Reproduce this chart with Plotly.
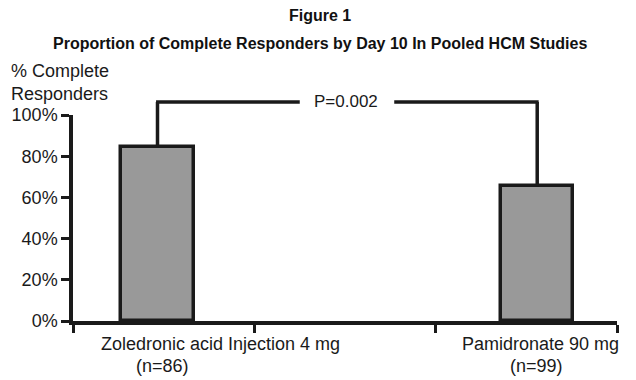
import plotly.graph_objects as go

# ---- data ----
categories = ["Zoledronic acid Injection 4 mg", "Pamidronate 90 mg"]
sample_sizes = ["(n=86)", "(n=99)"]
pct_complete = [84.5, 65.5]
p_value_label = "P=0.002"
y_tick_vals = [0, 20, 40, 60, 80, 100]
y_tick_text = ["0%", "20%", "40%", "60%", "80%", "100%"]

# ---- layout constants ----
W, H = 636, 380
ML, MR, MT, MB = 70, 19, 115, 59
PW = W - ML - MR
PH = H - MT - MB
XMAX = 3.0
bar_x = [0.466, 2.56]
bar_w = 0.4
TXT = "Liberation Sans, Arial, sans-serif"
TITLEF = "Liberation Sans Narrow, Arial Narrow, Liberation Sans, Arial, sans-serif"


def px_to_xpaper(px):
    return (px - ML) / PW


def px_to_ypaper(py):
    return (H - MB - py) / PH


fig = go.Figure()
fig.add_trace(go.Bar(
    x=bar_x, y=pct_complete, width=bar_w,
    marker=dict(color="#999999", line=dict(color="#1a1a1a", width=3.5)),
    hoverinfo="skip", showlegend=False,
))

shapes = []
bracket_y = px_to_ypaper(102)
lw = 3.5
lc = "#1a1a1a"
for bx, v in zip(bar_x, pct_complete):
    shapes.append(dict(type="line", xref="x", yref="paper", x0=bx, x1=bx,
                       y0=v / 100.0, y1=bracket_y, line=dict(color=lc, width=lw)))
gap_l = (298 - ML) / PW * XMAX
gap_r = (393 - ML) / PW * XMAX
shapes.append(dict(type="line", xref="x", yref="paper", x0=bar_x[0] - 0.008, x1=gap_l,
                   y0=bracket_y, y1=bracket_y, line=dict(color=lc, width=lw)))
shapes.append(dict(type="line", xref="x", yref="paper", x0=gap_r, x1=bar_x[1] + 0.008,
                   y0=bracket_y, y1=bracket_y, line=dict(color=lc, width=lw)))

annotations = []
annotations.append(dict(text=p_value_label, xref="paper", yref="paper",
                        x=px_to_xpaper(345), y=px_to_ypaper(101), showarrow=False,
                        font=dict(family=TXT, size=17, color="#1a1a1a"),
                        xanchor="center", yanchor="middle"))
annotations.append(dict(text="<b>Figure 1</b>", xref="paper", yref="paper",
                        x=px_to_xpaper(318), y=px_to_ypaper(15), showarrow=False,
                        font=dict(family=TITLEF, size=16, color="#111"),
                        xanchor="center", yanchor="middle"))
annotations.append(dict(text="<b>Proportion of Complete Responders by Day 10 In Pooled HCM Studies</b>",
                        xref="paper", yref="paper",
                        x=px_to_xpaper(318), y=px_to_ypaper(44), showarrow=False,
                        font=dict(family=TITLEF, size=16, color="#111"),
                        xanchor="center", yanchor="middle"))
annotations.append(dict(text="% Complete<br>Responders", xref="paper", yref="paper",
                        x=px_to_xpaper(6), y=px_to_ypaper(82), showarrow=False,
                        font=dict(family=TXT, size=18, color="#1a1a1a"),
                        xanchor="left", yanchor="middle", align="left"))
cat_line1_px = [218, 540]
cat_line2_px = [160, 536]
for c, n, p1, p2 in zip(categories, sample_sizes, cat_line1_px, cat_line2_px):
    annotations.append(dict(text=c, xref="paper", yref="paper",
                            x=px_to_xpaper(p1), y=px_to_ypaper(344), showarrow=False,
                            font=dict(family=TXT, size=18, color="#1a1a1a"),
                            xanchor="center", yanchor="middle"))
    annotations.append(dict(text=n, xref="paper", yref="paper",
                            x=px_to_xpaper(p2), y=px_to_ypaper(366), showarrow=False,
                            font=dict(family=TXT, size=18, color="#1a1a1a"),
                            xanchor="center", yanchor="middle"))

fig.update_layout(
    width=W, height=H,
    margin=dict(l=ML, r=MR, t=MT, b=MB, pad=0),
    paper_bgcolor="white", plot_bgcolor="white",
    shapes=shapes, annotations=annotations,
    xaxis=dict(range=[0, XMAX], showgrid=False, zeroline=False, showline=True,
               linecolor=lc, linewidth=lw, ticks="outside", ticklen=8, tickwidth=3,
               tickcolor=lc, tickvals=[0, 1, 2, 3], ticktext=["", "", "", ""],
               fixedrange=True),
    yaxis=dict(range=[0, 100], showgrid=False, zeroline=False, showline=True,
               linecolor=lc, linewidth=lw, ticks="outside", ticklen=8, tickwidth=3,
               tickcolor=lc, tickvals=y_tick_vals, ticktext=y_tick_text,
               tickfont=dict(family=TXT, size=18, color="#1a1a1a"), fixedrange=True),
    bargap=0,
)

fig.write_html("out.html", config={"displayModeBar": False},
               post_script="document.body.style.margin='0';document.body.style.padding='0';")
